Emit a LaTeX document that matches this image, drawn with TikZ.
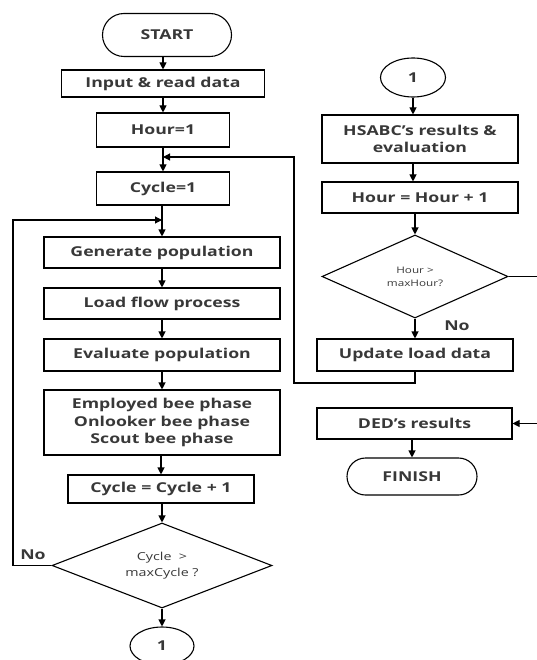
\documentclass[tikz,border=0pt]{standalone}
\usepackage{fontspec}
\setmainfont{Open Sans}[FakeStretch=1.3]
\usetikzlibrary{arrows.meta,shapes.geometric,shapes.misc}
\begin{document}
\begin{tikzpicture}[x=1pt,y=-1pt,
 every node/.style={font=\bfseries\fontsize{13.6}{17.5}\selectfont, text=black!78},
 box/.style={draw, line width=1.1pt, rectangle, inner sep=0pt, align=center},
 term/.style={draw, line width=1.1pt, rounded rectangle, inner sep=0pt},
 dec/.style={draw, line width=1.1pt, diamond, inner sep=0pt, aspect=2.6, align=center},
 conn/.style={draw, line width=1.1pt, ellipse, inner sep=0pt},
 lbl/.style={font=\bfseries\fontsize{13.6}{15}\selectfont},
 arr/.style={line width=1.1pt, -{Triangle[length=7pt,width=7pt]}}]
\useasboundingbox (0,0) rectangle (536,660);
% left column
\node[term, minimum width=129, minimum height=43] (start) at (167,35) {START};
\node[box, minimum width=203, minimum height=27] (input) at (163,83.5) {Input \& read data};
\node[box, minimum width=133, minimum height=34] (hour) at (163,130) {Hour=1};
\node[box, minimum width=133, minimum height=33] (cyc) at (163,188.5) {Cycle=1};
\node[box, minimum width=236, minimum height=31] (gen) at (162,252.5) {Generate population};
\node[box, minimum width=236, minimum height=31] (lfp) at (162,303.5) {Load flow process};
\node[box, minimum width=236, minimum height=32] (evalp) at (162,355) {Evaluate population};
\node[box, minimum width=236, minimum height=65] (bee) at (162,422.5) {Employed bee phase\\Onlooker bee phase\\Scout bee phase};
\node[box, minimum width=186, minimum height=28] (inc) at (161,489) {Cycle = Cycle + 1};
\node[dec, minimum width=220, minimum height=85, font=\fontsize{11}{16}\selectfont] (d1) at (162,565.5) {Cycle \ >\\maxCycle ?};
\node[conn, minimum width=64, minimum height=38] (c1) at (162,646) {1};
\node[lbl] (no1) at (33,555) {No};
% right column
\node[conn, minimum width=65, minimum height=39] (c2) at (413,77.5) {1};
\node[box, minimum width=196, minimum height=48] (hs) at (420,139) {HSABC’s results \&\\evaluation};
\node[box, minimum width=196, minimum height=31] (hinc) at (420,197.5) {Hour = Hour + 1};
\node[dec, minimum width=186, minimum height=83, font=\fontsize{9}{13}\selectfont] (d2) at (415,276.5) {Hour >\\maxHour?};
\node[box, minimum width=196, minimum height=32] (upd) at (415,355) {Update load data};
\node[box, minimum width=195, minimum height=31] (ded) at (414.5,423.5) {DED’s results};
\node[term, minimum width=130, minimum height=37] (fin) at (412,476.5) {FINISH};
\node[lbl] (no2) at (457,326) {No};
% helper coordinates
\coordinate (j1) at (163,157);
\coordinate (lpA) at (294,383);
\coordinate (lpB) at (294,157);
\coordinate (j2) at (162,220);
\coordinate (lpC) at (13,565.5);
\coordinate (lpD) at (13,220);
\coordinate (rA) at (540,276.5);
\coordinate (rB) at (540,423.5);
% left connectors
\draw[arr] (start.south -| input.north) -- (input.north);
\draw[arr] (input.south -| hour.north) -- (hour.north);
\draw[arr] (hour.south) -- (cyc.north);
\draw[arr] (cyc.south -| gen.north) -- (gen.north);
\draw[arr] (gen.south) -- (lfp.north);
\draw[arr] (lfp.south) -- (evalp.north);
\draw[arr] (evalp.south) -- (bee.north);
\draw[arr] (bee.south -| inc.north) -- (inc.north);
\draw[arr] (inc.south -| d1.north) -- (d1.north);
\draw[arr] (d1.south) -- (c1.north);
\draw[arr] (d1.west) -- (lpC) -- (lpD) -- (j2);
% right connectors
\draw[arr] (c2.south) -- (c2.south |- hs.north);
\draw[arr] (hs.south -| c2.south) -- (hinc.north -| c2.south);
\draw[arr] (hinc.south -| d2.north) -- (d2.north);
\draw[arr] (d2.south) -- (upd.north);
\draw[arr] (upd.south) |- (lpA) -- (lpB) -- (j1);
\draw[arr] (d2.east) -- (rA) -- (rB) -- (ded.east);
\draw[arr] (ded.south -| fin.north) -- (fin.north);
\end{tikzpicture}
\end{document}
